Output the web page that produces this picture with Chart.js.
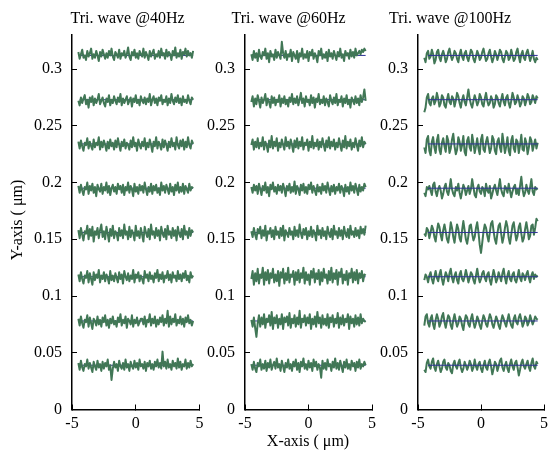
<!DOCTYPE html>
<html>
<head>
<meta charset="utf-8">
<script src="https://cdn.jsdelivr.net/npm/chart.js@4"></script>
<style>
  html,body{margin:0;padding:0;background:#fff;}
  #wrap{position:relative;width:559px;height:452px;background:#fff;}
  canvas{position:absolute;left:0;top:0;}
</style>
</head>
<body>
<div id="wrap">
  <canvas id="c0" width="559" height="452"></canvas>
  <canvas id="c1" width="559" height="452"></canvas>
  <canvas id="c2" width="559" height="452"></canvas>
</div>
<script>
// ---- data (values in nm, plotted in μm) ----
const titles = ['Tri. wave @40Hz', 'Tri. wave @60Hz', 'Tri. wave @100Hz'];
const xTicks = [-5, 0, 5];
const xTickLabels = ['-5', '0', '5'];
const yTicks = [0, 0.05, 0.1, 0.15, 0.2, 0.25, 0.3];
const yTickLabels = ['0', '0.05', '0.1', '0.15', '0.2', '0.25', '0.3'];
const levels = [39, 78, 117, 156, 195, 234, 273, 312];
const refStartX = [-4.4, -4.4, -4.2];
const refEndX = [4.5, 4.5, 4.5];
const xs = [-4.5,-4.4,-4.3,-4.2,-4.1,-4.0,-3.9,-3.8,-3.7,-3.6,-3.5,-3.4,-3.3,-3.2,-3.1,-3.0,-2.9,-2.8,-2.7,-2.6,
  -2.5,-2.4,-2.3,-2.2,-2.1,-2.0,-1.9,-1.8,-1.7,-1.6,-1.5,-1.4,-1.3,-1.2,-1.1,-1.0,-0.9,-0.8,-0.7,-0.6,
  -0.5,-0.4,-0.3,-0.2,-0.1,0.0,0.1,0.2,0.3,0.4,0.5,0.6,0.7,0.8,0.9,1.0,1.1,1.2,1.3,1.4,
  1.5,1.6,1.7,1.8,1.9,2.0,2.1,2.2,2.3,2.4,2.5,2.6,2.7,2.8,2.9,3.0,3.1,3.2,3.3,3.4,
  3.5,3.6,3.7,3.8,3.9,4.0,4.1,4.2,4.3,4.4,4.5];

// Panel 1: 40 Hz
const p40_312 = [315,309,313,317,310,312,308,316,311,314,318,309,313,310,316,312,307,315,311,317,313,309,314,310,316,312,318,311,308,315,313,310,317,309,314,312,316,310,313,319,311,308,315,312,317,310,314,309,316,313,311,318,310,315,312,308,316,311,314,317,309,313,311,316,310,318,312,314,309,317,311,315,313,308,316,312,319,310,314,311,317,309,315,313,318,311,316,312,314,310,316];
const p40_273 = [272,268,275,270,274,277,269,273,266,275,271,276,268,274,270,273,278,269,272,275,270,267,274,271,277,268,273,270,276,272,269,275,271,278,268,274,270,273,276,269,272,275,267,274,271,277,270,273,268,276,272,270,275,269,274,271,278,268,273,276,270,274,268,275,272,277,269,273,271,276,268,274,270,278,272,269,275,271,277,270,274,268,276,271,273,270,277,272,269,275,273];
const p40_234 = [236,230,237,232,228,235,233,239,230,236,232,229,238,231,235,233,240,229,236,231,237,233,228,236,230,238,232,235,229,237,231,239,233,228,236,232,238,230,235,233,229,237,231,240,232,235,228,238,233,230,236,232,239,229,235,231,238,233,227,236,232,240,230,236,233,229,238,231,237,233,228,236,231,239,232,235,229,240,233,230,237,232,238,229,236,231,240,233,230,237,234];
const p40_195 = [197,191,198,193,189,196,194,200,190,197,193,199,191,196,188,198,194,192,199,190,196,193,200,191,197,189,195,198,192,196,190,199,194,197,191,198,189,196,193,200,191,197,194,188,199,192,196,190,198,193,197,191,200,194,189,196,192,199,190,197,193,198,191,195,189,200,193,197,191,198,194,190,199,192,196,189,198,193,200,191,196,192,199,190,197,194,191,199,193,196,195];
const p40_156 = [158,151,160,154,149,157,155,162,150,159,153,161,148,157,154,160,151,158,163,152,157,150,161,155,148,159,153,162,151,157,155,149,160,153,158,151,163,154,157,150,161,152,158,155,149,162,153,157,151,160,154,148,161,156,152,159,150,163,154,157,151,160,153,158,149,161,155,152,159,150,162,154,157,151,160,153,158,149,161,155,152,159,150,162,154,157,151,160,153,158,156];
const p40_117 = [119,113,121,115,111,118,116,122,112,120,115,110,121,114,119,116,123,112,118,115,121,113,119,116,111,122,114,118,113,120,116,112,121,115,119,111,122,117,114,120,113,118,115,123,112,119,116,121,113,118,115,111,122,116,119,113,121,115,118,112,120,116,123,113,119,115,121,112,118,116,122,114,119,112,121,116,118,113,122,115,119,113,120,116,122,114,118,112,121,116,118];
const p40_78  = [80,74,82,76,72,79,77,83,73,81,76,71,80,78,74,82,75,79,73,81,77,83,74,79,72,80,76,82,75,78,73,81,77,84,74,79,76,82,72,80,78,75,83,73,79,76,81,74,77,80,80,75,82,73,79,77,84,74,80,76,82,73,79,75,81,77,83,74,80,76,87,73,82,75,80,77,84,74,79,76,82,75,80,73,81,77,83,76,79,74,78];
const p40_39  = [41,35,43,37,34,40,38,44,36,41,37,33,42,38,35,43,37,40,34,42,36,41,38,44,35,39,26,36,42,37,40,34,43,38,36,41,35,44,37,40,34,42,38,36,43,37,41,35,44,38,40,36,42,34,41,38,43,36,40,35,42,38,44,37,41,36,51,38,42,36,44,37,40,35,43,38,41,36,45,37,42,35,40,38,44,36,41,37,43,38,40];

// Panel 2: 60 Hz
const p60_312 = [313,308,316,310,314,307,317,311,309,315,312,318,309,314,306,316,311,313,308,317,310,315,312,309,324,314,310,316,308,313,311,317,307,315,312,309,316,306,314,311,318,309,313,310,316,307,315,312,317,309,314,311,306,316,312,318,309,313,310,315,307,317,311,314,309,316,312,308,315,311,318,310,313,307,316,312,314,309,317,311,315,310,318,312,314,316,313,317,315,318,316];
const p60_273 = [271,276,267,274,269,277,272,266,275,270,273,278,268,274,271,266,276,270,275,268,273,271,277,267,274,270,276,269,273,267,275,271,278,269,274,270,276,268,273,279,270,274,267,276,271,273,268,277,270,275,266,274,271,278,269,273,270,276,268,274,271,267,277,272,269,275,270,278,268,273,271,276,267,274,270,277,269,273,266,275,272,269,276,270,274,268,277,271,275,282,272];
const p60_234 = [233,238,229,236,231,239,230,235,232,240,229,236,233,227,237,231,241,230,236,232,239,228,235,231,238,233,229,240,232,236,230,238,233,227,237,231,239,230,236,232,240,229,235,233,238,228,236,231,241,230,235,232,238,229,236,231,239,233,228,237,231,240,230,236,232,238,229,235,231,239,233,228,237,231,241,230,236,232,238,229,235,231,239,233,228,237,232,240,231,236,234];
const p60_195 = [196,191,198,193,197,190,199,194,189,197,193,200,191,196,188,198,194,200,192,196,190,198,193,197,191,199,194,188,197,193,199,191,196,192,201,190,197,194,189,198,193,199,191,196,190,198,194,200,191,197,193,189,198,192,196,190,199,193,197,191,200,194,189,197,192,198,190,196,193,199,191,197,194,188,198,192,196,190,200,193,197,191,199,194,189,198,192,196,193,199,196];
const p60_156 = [157,152,160,154,150,159,155,161,151,158,153,162,149,157,155,160,152,158,150,161,154,157,151,160,153,162,149,158,155,152,160,154,157,150,161,153,158,152,163,155,151,159,154,160,150,157,153,161,152,158,155,149,162,154,158,151,160,153,157,150,161,155,152,159,150,162,154,157,151,160,153,158,150,161,155,152,159,151,162,154,157,152,160,153,158,151,161,155,159,154,162];
const p60_117 = [115,122,110,120,113,124,111,119,116,125,110,121,114,123,111,120,116,124,112,119,113,122,109,121,116,124,111,120,114,125,112,119,117,122,110,121,114,123,112,120,116,125,111,121,114,119,110,122,116,124,112,120,115,123,110,121,113,124,116,119,111,122,114,125,112,120,115,123,110,121,117,124,111,119,114,122,110,120,116,124,112,121,114,123,111,120,116,122,113,119,118];
const p60_78  = [79,73,81,72,64,76,83,73,81,75,84,72,80,77,83,74,86,71,81,76,83,72,80,75,84,71,81,77,82,74,85,72,80,76,83,73,81,75,87,72,80,77,83,74,81,76,84,71,80,75,82,73,86,76,81,72,83,75,80,74,84,72,81,77,83,73,80,76,85,72,81,75,83,74,80,77,84,71,82,76,80,73,83,75,81,74,84,76,80,78,77];
const p60_39  = [40,35,42,36,33,41,38,44,35,40,36,43,34,41,37,44,35,39,42,36,45,37,40,34,43,38,33,41,37,44,36,40,34,42,38,44,35,41,33,42,38,45,36,40,35,43,37,41,34,44,38,42,35,40,37,28,43,36,41,35,44,38,40,34,42,37,45,36,41,35,43,38,33,42,37,44,36,40,35,43,38,41,34,42,37,44,36,40,38,42,39];

// Panel 3: 100 Hz
const p100_312 = [310,306,314,316,309,311,317,313,305,308,315,317,310,307,313,316,312,306,309,315,318,312,308,311,316,314,309,306,313,317,311,308,314,316,310,307,312,317,315,309,306,311,316,313,308,310,315,318,312,307,309,314,317,311,306,310,316,313,308,312,317,315,309,306,311,316,314,308,310,317,312,307,309,315,318,311,306,313,316,310,308,314,317,312,307,311,316,309,306,310,308];
const p100_273 = [262,266,275,278,270,268,274,276,269,272,279,274,267,270,277,275,268,266,273,278,271,269,276,274,267,272,279,276,270,266,273,277,271,268,275,282,274,269,266,272,277,273,268,271,278,275,269,267,274,279,272,268,270,276,273,266,269,277,275,270,267,273,278,271,268,275,277,270,266,272,279,275,269,271,277,273,267,270,276,274,268,272,278,275,269,271,277,274,270,276,274];
const p100_234 = [231,226,238,241,228,224,236,240,231,226,237,242,229,225,235,239,232,227,241,237,226,230,238,243,232,225,229,240,236,228,233,241,227,224,237,240,231,228,242,235,226,232,239,230,225,238,242,229,227,236,240,233,226,230,241,238,228,225,236,239,231,227,243,235,226,232,240,228,224,237,241,230,227,238,236,226,233,242,229,228,239,235,225,231,240,237,228,233,238,230,235];
const p100_195 = [191,188,196,194,197,193,189,198,200,192,188,194,197,193,186,190,196,199,192,189,195,203,194,190,188,196,193,199,191,186,192,198,195,189,193,197,190,194,203,196,189,187,195,198,192,190,196,194,188,199,193,191,197,186,190,195,198,193,189,196,203,194,190,188,197,195,191,199,193,187,192,196,198,190,194,189,197,205,194,188,191,198,193,190,196,203,192,189,196,194,195];
const p100_156 = [155,153,160,158,151,156,162,159,152,148,157,164,161,154,149,158,163,157,150,147,155,165,160,152,147,156,163,159,151,148,158,166,158,150,146,153,162,163,155,149,152,160,165,156,145,138,147,157,163,160,153,148,156,164,166,157,150,146,155,162,164,155,147,152,160,166,161,151,146,154,162,165,156,149,153,161,164,155,148,151,159,165,158,150,153,162,163,154,160,168,166];
const p100_117 = [114,119,117,112,118,121,115,111,117,122,116,113,119,123,115,110,116,121,118,113,120,124,116,112,118,121,114,111,119,122,115,113,117,123,118,112,116,121,119,114,111,118,124,117,112,115,120,122,116,113,119,121,114,110,117,123,118,112,115,121,117,113,120,124,116,111,118,122,115,113,119,121,114,112,117,123,116,113,120,118,114,119,122,116,112,118,121,115,119,117,118];
const p100_78  = [74,82,84,76,73,80,83,75,71,79,84,80,73,76,82,85,77,72,78,83,81,74,71,79,84,78,73,76,82,80,74,70,78,83,81,75,73,80,84,77,72,76,82,79,74,71,78,83,80,75,73,79,84,81,75,72,77,82,79,74,71,78,83,80,76,73,79,84,78,74,72,80,83,77,75,81,84,79,73,76,82,80,74,77,83,79,75,78,82,80,79];
const p100_39  = [35,33,41,44,38,36,42,45,37,34,40,43,38,33,36,42,44,37,35,41,39,34,32,40,43,38,36,41,44,37,33,36,42,39,35,38,43,40,34,37,44,38,35,40,42,36,33,39,43,37,35,41,44,38,31,36,42,40,34,38,43,45,37,34,39,42,36,33,40,44,38,35,41,43,37,30,35,41,44,38,36,40,43,37,34,41,45,38,36,42,40];

const panels = [
  [p40_39, p40_78, p40_117, p40_156, p40_195, p40_234, p40_273, p40_312],
  [p60_39, p60_78, p60_117, p60_156, p60_195, p60_234, p60_273, p60_312],
  [p100_39, p100_78, p100_117, p100_156, p100_195, p100_234, p100_273, p100_312]
];

// ---- layout / style ----
const GREEN = '#417756';
const BLUE = '#2e3296';
const FONT = 'Liberation Serif, Times New Roman, serif';
const axisLeft = [72, 245, 418];
const axisRight = [199.5, 372, 544];
const titleCenter = [127.5, 288.5, 450];
const Y_W = 50, X_H = 30;

const textPlugin = {
  id: 'texts',
  afterDraw(chart, args, opts) {
    const ctx = chart.ctx;
    ctx.save();
    ctx.fillStyle = '#000';
    ctx.font = '16px ' + FONT;
    ctx.textAlign = 'center';
    ctx.textBaseline = 'alphabetic';
    ctx.fillText(opts.title, opts.titleX, 23);
    if (opts.xLabel) ctx.fillText(opts.xLabel, opts.xLabelX, 446);
    if (opts.yLabel) {
      ctx.translate(22, 220);
      ctx.rotate(-Math.PI / 2);
      ctx.fillText(opts.yLabel, 0, 0);
    }
    ctx.restore();
  }
};

function makeChart(i) {
  const datasets = [];
  panels[i].forEach((vals, k) => {
    const n = Math.min(vals.length, xs.length);
    const pts = [];
    for (let j = 0; j < n; j++) pts.push({x: xs[j], y: vals[j] / 1000});
    datasets.push({
      data: pts,
      borderColor: GREEN, borderWidth: 2, pointRadius: 0, tension: 0,
      borderJoinStyle: 'round',
      order: 2, fill: false
    });
    datasets.push({
      data: [{x: refStartX[i], y: levels[k] / 1000}, {x: refEndX[i], y: levels[k] / 1000}],
      borderColor: BLUE, borderWidth: 1, pointRadius: 0,
      order: i === 2 ? 1 : 3, fill: false
    });
  });
  new Chart(document.getElementById('c' + i), {
    type: 'line',
    data: {datasets},
    plugins: [textPlugin],
    options: {
      responsive: false,
      animation: false,
      events: [],
      layout: {padding: {left: axisLeft[i] - Y_W, right: 559 - axisRight[i], top: 35, bottom: 452 - 409.5 - X_H}},
      plugins: {
        legend: {display: false},
        tooltip: {enabled: false},
        texts: {
          title: titles[i], titleX: titleCenter[i],
          xLabel: i === 1 ? 'X-axis ( μm)' : null, xLabelX: 308,
          yLabel: i === 0 ? 'Y-axis ( μm)' : null
        }
      },
      scales: {
        x: {
          type: 'linear', min: -5, max: 5,
          afterBuildTicks: s => { s.ticks = xTicks.map(v => ({value: v})); },
          afterFit: s => { s.height = X_H; s.paddingLeft = 0; s.paddingRight = 0; },
          grid: {drawOnChartArea: false, tickLength: -5, color: '#000', lineWidth: 1},
          border: {color: '#000', width: 1.5},
          ticks: {
            color: '#000', font: {family: FONT, size: 16}, padding: 10, maxRotation: 0,
            callback: (v) => xTickLabels[xTicks.indexOf(v)]
          }
        },
        y: {
          type: 'linear', min: 0, max: 0.33,
          afterBuildTicks: s => { s.ticks = yTicks.map(v => ({value: v})); },
          afterFit: s => { s.width = Y_W; s.paddingTop = 0; s.paddingBottom = 0; },
          grid: {drawOnChartArea: false, tickLength: -5, color: '#000', lineWidth: 1},
          border: {color: '#000', width: 1.5},
          ticks: {
            color: '#000', font: {family: FONT, size: 16}, padding: 15,
            callback: (v) => yTickLabels[yTicks.indexOf(v)]
          }
        }
      }
    }
  });
}
[0, 1, 2].forEach(makeChart);
</script>
</body>
</html>
